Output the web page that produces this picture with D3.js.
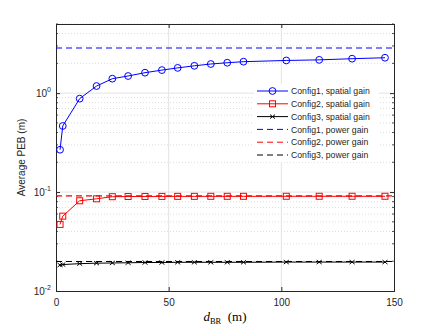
<!DOCTYPE html>
<html>
<head>
<meta charset="utf-8">
<script src="https://cdn.jsdelivr.net/npm/d3@7/dist/d3.min.js"></script>
<style>
  body { margin: 0; background: #fff; }
  svg text { font-family: "Liberation Sans", Arial, sans-serif; }
</style>
</head>
<body>
<div id="visualization"></div>
<script>
// distances d_BR (m)
var distances = [1.8, 3, 10.5, 18, 25, 32, 39.5, 47, 54, 61.4, 68.7, 76, 83.2, 102.2, 116.8, 131.4, 146];

// spatial gain curves
var config1 = [0.268, 0.466, 0.88, 1.18, 1.40, 1.49, 1.61, 1.71, 1.80, 1.89, 1.97, 2.03, 2.08, 2.14, 2.17, 2.23, 2.28];
var config2 = [0.0471, 0.0571, 0.0817, 0.0855, 0.0898, 0.0902, 0.0903, 0.0904, 0.0905, 0.0905, 0.0906, 0.0906, 0.0906, 0.0907, 0.0907, 0.0907, 0.0907];
var config3 = [0.0183, 0.0185, 0.0189, 0.0191, 0.0192, 0.0193, 0.0194, 0.0194, 0.0195, 0.0195, 0.0195, 0.0195, 0.0195, 0.0196, 0.0196, 0.0196, 0.0196];

// power gain levels (flat)
var powerGain = [2.86, 0.0915, 0.0199];

var seriesNames = ["Config1, spatial gain", "Config2, spatial gain", "Config3, spatial gain",
                   "Config1, power gain", "Config2, power gain", "Config3, power gain"];
var colors = ["#0000ff", "#ff0000", "#000000"];
var xTicks = [0, 50, 100, 150];
var yTicks = [0.01, 0.1, 1];

var W = 436, H = 327;
var m = {left: 56, right: 394, top: 24, bottom: 291};

var svg = d3.select("#visualization").append("svg")
  .attr("width", W).attr("height", H);

var x = d3.scaleLinear().domain([0, 150]).range([m.left, m.right]);
var y = d3.scaleLog().domain([0.01, 5]).range([m.bottom, m.top]);

// minor grid (dotted)
var minors = [];
[0.01, 0.1, 1].forEach(function (dec) {
  for (var k = 2; k <= 9; k++) {
    var v = dec * k;
    if (v < 5.0001) minors.push(v);
  }
});
svg.append("g").selectAll("line").data(minors).enter().append("line")
  .attr("x1", m.left).attr("x2", m.right)
  .attr("y1", function (d) { return y(d); }).attr("y2", function (d) { return y(d); })
  .attr("stroke", "#d4d4d4").attr("stroke-width", 0.8)
  .attr("stroke-dasharray", "1,2");

// major grid
svg.append("g").selectAll("line").data([0.1, 1]).enter().append("line")
  .attr("x1", m.left).attr("x2", m.right)
  .attr("y1", function (d) { return y(d); }).attr("y2", function (d) { return y(d); })
  .attr("stroke", "#e3e3e3").attr("stroke-width", 1);
svg.append("g").selectAll("line").data([50, 100]).enter().append("line")
  .attr("y1", m.top).attr("y2", m.bottom)
  .attr("x1", function (d) { return x(d); }).attr("x2", function (d) { return x(d); })
  .attr("stroke", "#e3e3e3").attr("stroke-width", 1);

// axes (ticks inward)
var axCol = "#262626";
var gx = svg.append("g").attr("transform", "translate(0," + m.bottom + ")")
  .call(d3.axisBottom(x).tickValues(xTicks).tickSize(-4).tickPadding(8).tickFormat(d3.format("d")));
var gxt = svg.append("g").attr("transform", "translate(0," + m.top + ")")
  .call(d3.axisTop(x).tickValues(xTicks).tickSize(-4).tickFormat(""));
var gy = svg.append("g").attr("transform", "translate(" + m.left + ",0)")
  .call(d3.axisLeft(y).tickValues(yTicks).tickSize(-4).tickPadding(6).tickFormat(""));
var gyr = svg.append("g").attr("transform", "translate(" + m.right + ",0)")
  .call(d3.axisRight(y).tickValues(yTicks).tickSize(-4).tickFormat(""));
[gx, gxt, gy, gyr].forEach(function (g) {
  g.select(".domain").attr("stroke", axCol).attr("stroke-width", 1);
  g.selectAll(".tick line").attr("stroke", axCol);
});
gx.selectAll("text").attr("fill", axCol).style("font-size", "10px")
  .style("font-family", "Liberation Sans, Arial, sans-serif");

// minor y ticks
[m.left, m.right].forEach(function (px, i) {
  svg.append("g").selectAll("line").data(minors).enter().append("line")
    .attr("x1", px).attr("x2", i === 0 ? px + 2 : px - 2)
    .attr("y1", function (d) { return y(d); }).attr("y2", function (d) { return y(d); })
    .attr("stroke", axCol).attr("stroke-width", 0.8);
});

// y tick labels 10^k
yTicks.forEach(function (v) {
  var e = Math.round(Math.log10(v));
  var t = svg.append("text").attr("x", m.left - 5).attr("y", y(v) + 4)
    .attr("text-anchor", "end").attr("fill", axCol).style("font-size", "10px");
  t.append("tspan").text("10");
  t.append("tspan").attr("dy", -5).style("font-size", "7px").text(e);
});

// axis labels
svg.append("text")
  .attr("transform", "translate(25," + ((m.top + m.bottom) / 2) + ") rotate(-90)")
  .attr("text-anchor", "middle").attr("fill", axCol).style("font-size", "10px")
  .text("Average PEB (m)");

var xl = svg.append("text").attr("x", (m.left + m.right) / 2).attr("y", 321)
  .attr("text-anchor", "middle").attr("fill", "#000")
  .style("font-family", "'Liberation Serif', 'DejaVu Serif', serif").style("font-size", "13px");
xl.append("tspan").style("font-style", "italic").text("d");
xl.append("tspan").attr("dy", 3).style("font-size", "8.5px").text("BR");
xl.append("tspan").attr("dy", -3).text("\u00a0\u00a0(m)");

// data
var spatial = [config1, config2, config3];
var line = d3.line().x(function (d) { return x(d[0]); }).y(function (d) { return y(d[1]); });

function drawMarker(g, type, cx, cy, col) {
  if (type === 0) {
    g.append("circle").attr("cx", cx).attr("cy", cy).attr("r", 3.4)
      .attr("fill", "none").attr("stroke", col).attr("stroke-width", 1);
  } else if (type === 1) {
    g.append("rect").attr("x", cx - 3).attr("y", cy - 3).attr("width", 6).attr("height", 6)
      .attr("fill", "none").attr("stroke", col).attr("stroke-width", 1);
  } else {
    g.append("path").attr("d", "M" + (cx - 2.5) + "," + (cy - 2) + "L" + (cx + 2.5) + "," + (cy + 2) +
      "M" + (cx - 2.5) + "," + (cy + 2) + "L" + (cx + 2.5) + "," + (cy - 2))
      .attr("stroke", col).attr("stroke-width", 1);
  }
}

// power gain dashed lines
powerGain.forEach(function (v, i) {
  svg.append("path").datum([[0, v], [150, v]]).attr("d", line)
    .attr("fill", "none").attr("stroke", colors[i]).attr("stroke-width", 1.1)
    .attr("stroke-dasharray", "6,4");
});

spatial.forEach(function (vals, i) {
  var pts = distances.map(function (d, j) { return [d, vals[j]]; });
  var g = svg.append("g");
  g.append("path").datum(pts).attr("d", line)
    .attr("fill", "none").attr("stroke", colors[i]).attr("stroke-width", 1);
  pts.forEach(function (p) { drawMarker(g, i, x(p[0]), y(p[1]), colors[i]); });
});

// legend
var lg = svg.append("g");
lg.append("rect").attr("x", 254).attr("y", 84).attr("width", 125).attr("height", 78).attr("fill", "#fff");
seriesNames.forEach(function (name, i) {
  var ly = 91 + i * 12.8;
  var col = colors[i % 3];
  lg.append("line").attr("x1", 257).attr("x2", 288).attr("y1", ly).attr("y2", ly)
    .attr("stroke", col).attr("stroke-width", 1)
    .attr("stroke-dasharray", i < 3 ? null : "6,4");
  if (i < 3) drawMarker(lg, i, 272.5, ly, col);
  lg.append("text").attr("x", 291).attr("y", ly + 3.2).attr("fill", axCol)
    .style("font-size", "8.7px").text(name);
});
</script>
</body>
</html>
